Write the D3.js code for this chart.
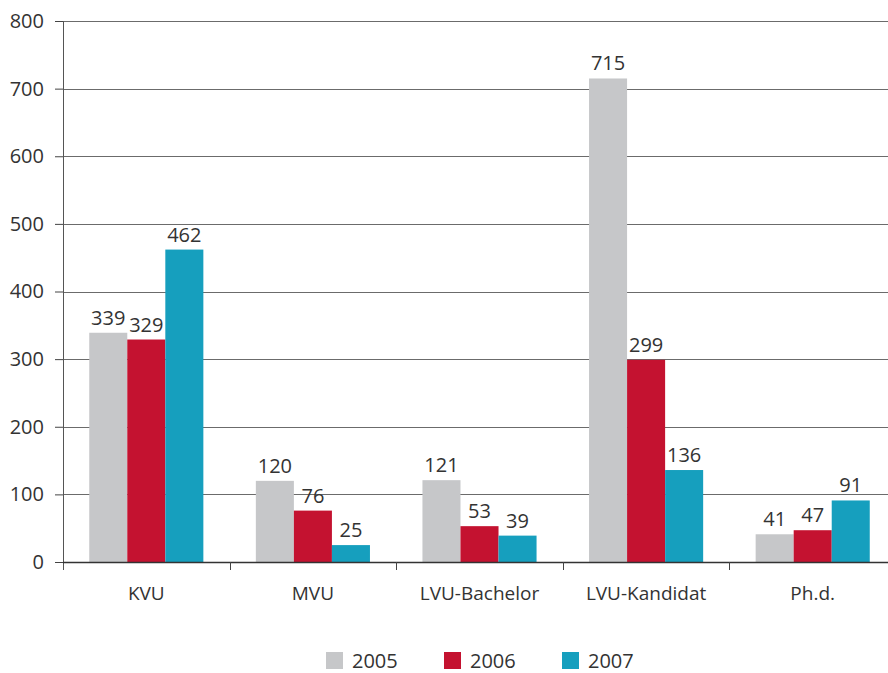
<!DOCTYPE html>
<html>
<head>
<meta charset="utf-8">
<script src="https://cdn.jsdelivr.net/npm/d3@7"></script>
<style>
  body { margin: 0; background: #fff; overflow: hidden; }
  text { font-family: "Open Sans", "Noto Sans", sans-serif; fill: #333; }
</style>
</head>
<body>
<div id="chart"></div>
<script>
const categories = ["KVU", "MVU", "LVU-Bachelor", "LVU-Kandidat", "Ph.d."];
const years = ["2005", "2006", "2007"];
const values2005 = [339, 120, 121, 715, 41];
const values2006 = [329, 76, 53, 299, 47];
const values2007 = [462, 25, 39, 136, 91];
const yTicks = [0, 100, 200, 300, 400, 500, 600, 700, 800];
const colors = ["#c6c7c9", "#c41230", "#169fbe"];

const W = 888, H = 673;
// plot runs a little past the right edge of the picture, as in the original
const margin = { top: 21, right: -8, bottom: 111, left: 63 };
const width = W - margin.left - margin.right;
const height = H - margin.top - margin.bottom;

const seriesByYear = [values2005, values2006, values2007];
const rows = categories.map((c, i) => ({
  cat: c,
  vals: years.map((y, j) => ({ year: y, value: seriesByYear[j][i], color: colors[j] }))
}));

const svg = d3.select("#chart").append("svg")
  .attr("width", W)
  .attr("height", H);

const g = svg.append("g")
  .attr("transform", `translate(${margin.left},${margin.top})`);

const x0 = d3.scaleBand().domain(categories).range([0, width]).padding(0);
const x1 = d3.scaleBand().domain(years).range([0, x0.bandwidth()])
  .paddingInner(0).paddingOuter(0.69);
const y = d3.scaleLinear().domain([0, 800]).range([height, 0]);

// gridlines
g.append("g")
  .selectAll("line")
  .data(yTicks.filter(d => d > 0))
  .join("line")
  .attr("x1", 0)
  .attr("x2", width)
  .attr("y1", d => Math.round(y(d)) + 0.5)
  .attr("y2", d => Math.round(y(d)) + 0.5)
  .attr("stroke", "#6b6b6b")
  .attr("stroke-width", 1.2);

// bars
const groups = g.selectAll(".group")
  .data(rows)
  .join("g")
  .attr("class", "group")
  .attr("transform", d => `translate(${x0(d.cat)},0)`);

groups.selectAll("rect")
  .data(d => d.vals)
  .join("rect")
  .attr("x", d => x1(d.year))
  .attr("width", x1.bandwidth())
  .attr("y", d => y(d.value))
  .attr("height", d => height - y(d.value))
  .attr("fill", d => d.color);

groups.selectAll(".lbl")
  .data(d => d.vals)
  .join("text")
  .attr("class", "lbl")
  .attr("x", d => x1(d.year) + x1.bandwidth() / 2)
  .attr("y", d => y(d.value) - 8)
  .attr("text-anchor", "middle")
  .attr("font-size", "20px")
  .text(d => d.value);

// y axis
const yAxis = g.append("g")
  .call(d3.axisLeft(y).tickValues(yTicks).tickSize(8).tickPadding(11));
yAxis.select(".domain").remove();
yAxis.selectAll(".tick line").attr("stroke", "#444");
yAxis.selectAll(".tick text").attr("font-size", "20px").attr("fill", "#333");

g.append("line")
  .attr("x1", 0.5).attr("x2", 0.5)
  .attr("y1", 0).attr("y2", height + 8)
  .attr("stroke", "#555");

// x axis
g.append("line")
  .attr("x1", 0).attr("x2", width)
  .attr("y1", height + 0.5).attr("y2", height + 0.5)
  .attr("stroke", "#333")
  .attr("stroke-width", 1.3);

const bounds = categories.map(c => x0(c)).concat([width]);
g.append("g")
  .selectAll("line")
  .data(bounds.slice(1))
  .join("line")
  .attr("x1", d => Math.round(d) + 0.5)
  .attr("x2", d => Math.round(d) + 0.5)
  .attr("y1", height)
  .attr("y2", height + 8)
  .attr("stroke", "#444");

g.append("g")
  .selectAll("text")
  .data(categories)
  .join("text")
  .attr("x", d => x0(d) + x0.bandwidth() / 2)
  .attr("y", height + 38)
  .attr("text-anchor", "middle")
  .attr("font-size", "19px")
  .text(d => d);

// legend
const legend = svg.append("g")
  .attr("transform", "translate(326,652)");

const items = legend.selectAll("g")
  .data(years)
  .join("g")
  .attr("transform", (d, i) => `translate(${i * 118},0)`);

items.append("rect")
  .attr("width", 17)
  .attr("height", 17)
  .attr("fill", (d, i) => colors[i]);

items.append("text")
  .attr("x", 26)
  .attr("y", 16)
  .attr("font-size", "20px")
  .text(d => d);
</script>
</body>
</html>
